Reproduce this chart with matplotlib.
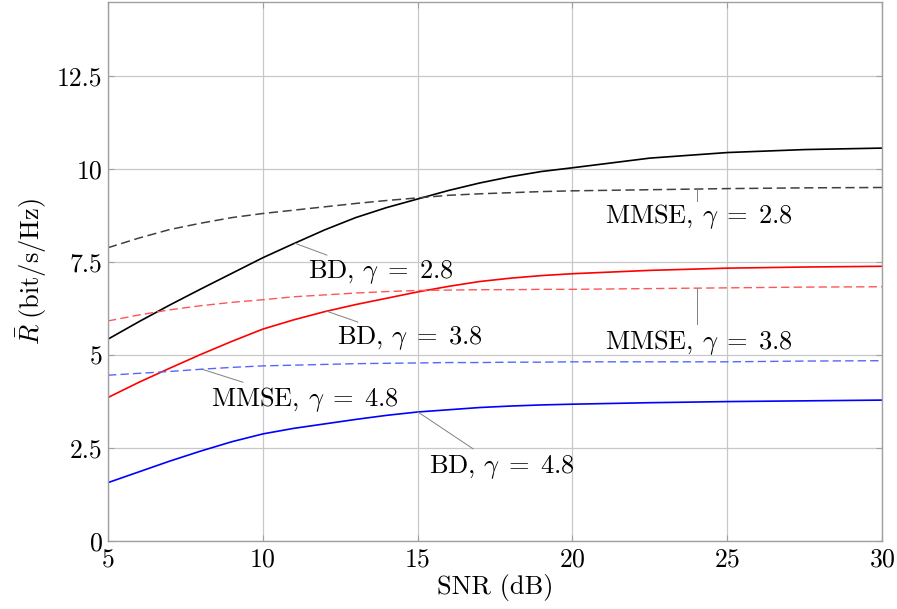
import numpy as np
import matplotlib
matplotlib.use("Agg")
import matplotlib.pyplot as plt

plt.rcParams['font.family'] = 'serif'
plt.rcParams['font.serif'] = ['cmr10', 'DejaVu Serif']
plt.rcParams['mathtext.fontset'] = 'cm'
plt.rcParams['axes.formatter.use_mathtext'] = True

# SNR in dB
snr = [5, 6, 7, 8, 9, 10, 11, 12, 13, 14, 15, 16, 17, 18, 19, 20, 22.5, 25, 27.5, 30]

# average rate curves (bit/s/Hz)
bd_28 = [5.43, 5.90, 6.35, 6.78, 7.20, 7.62, 8.00, 8.37, 8.70, 8.97, 9.20,
         9.43, 9.63, 9.80, 9.94, 10.04, 10.30, 10.45, 10.53, 10.57]
mmse_28 = [7.89, 8.15, 8.38, 8.55, 8.70, 8.81, 8.90, 8.99, 9.08, 9.16, 9.23,
           9.30, 9.34, 9.37, 9.40, 9.42, 9.45, 9.48, 9.50, 9.51]
bd_38 = [3.86, 4.27, 4.65, 5.02, 5.37, 5.70, 5.95, 6.17, 6.36, 6.53, 6.70,
         6.85, 6.98, 7.07, 7.14, 7.19, 7.28, 7.34, 7.37, 7.39]
mmse_38 = [5.92, 6.08, 6.22, 6.33, 6.42, 6.49, 6.57, 6.62, 6.67, 6.71, 6.74,
           6.75, 6.76, 6.76, 6.77, 6.77, 6.79, 6.81, 6.83, 6.84]
bd_48 = [1.57, 1.86, 2.15, 2.42, 2.67, 2.88, 3.03, 3.15, 3.27, 3.38, 3.47,
         3.53, 3.59, 3.63, 3.66, 3.68, 3.72, 3.75, 3.77, 3.79]
mmse_48 = [4.46, 4.51, 4.56, 4.62, 4.67, 4.71, 4.73, 4.75, 4.77, 4.78, 4.79,
           4.80, 4.80, 4.81, 4.81, 4.82, 4.82, 4.82, 4.84, 4.85]

fig = plt.figure(figsize=(8.97, 6.09), dpi=100)
ax = fig.add_axes([0.1204, 0.1117, 0.8629, 0.885])

ax.plot(snr, bd_28, color='black', lw=1.2)
ax.plot(snr, mmse_28, color='#404040', lw=1.1, dashes=(6, 3))
ax.plot(snr, bd_38, color='#ff0000', lw=1.2)
ax.plot(snr, mmse_38, color='#ff5555', lw=1.0, dashes=(6, 3))
ax.plot(snr, bd_48, color='#0000ff', lw=1.2)
ax.plot(snr, mmse_48, color='#5566ff', lw=1.0, dashes=(6, 3))

# labels with leader lines (text, curve point, line end, text pos)
notes = [
    (r'BD, $\gamma\;=\;2.8$', (11.04, 8.01), (12.07, 7.69), (11.46, 7.23)),
    (r'BD, $\gamma\;=\;3.8$', (12.07, 6.18), (13.07, 5.89), (12.40, 5.45)),
    (r'MMSE, $\gamma\;=\;2.8$', (24.02, 9.48), (24.02, 9.14), (21.05, 8.72)),
    (r'MMSE, $\gamma\;=\;3.8$', (24.02, 6.81), (24.02, 5.84), (21.05, 5.35)),
    (r'MMSE, $\gamma\;=\;4.8$', (8.04, 4.62), (9.36, 4.27), (8.33, 3.80)),
    (r'BD, $\gamma\;=\;4.8$', (15.01, 3.47), (16.79, 2.48), (15.37, 2.00)),
]
for txt, pt, end, pos in notes:
    ax.plot([pt[0], end[0]], [pt[1], end[1]], color='#808080', lw=0.7)
    ax.text(pos[0], pos[1], txt, fontsize=19, ha='left', va='center')

ax.set_xlim(5, 30)
ax.set_ylim(0, 14.5)
ax.set_xticks([5, 10, 15, 20, 25, 30])
ax.set_yticks([0, 2.5, 5, 7.5, 10, 12.5])
ax.set_yticklabels(['0', '2.5', '5', '7.5', '10', '12.5'])
ax.grid(True, color='#c8c8c8', lw=0.9)
ax.set_axisbelow(True)
for s in ax.spines.values():
    s.set_color('#a0a0a0')
    s.set_linewidth(1.0)
ax.tick_params(direction='in', color='#a0a0a0', length=4, labelsize=18.5,
               right=True, top=True)
ax.tick_params(axis='y', pad=4)
ax.tick_params(axis='x', pad=5)
ax.set_xlabel('SNR (dB)', fontsize=19, labelpad=2)
ax.set_ylabel(r'$\bar{R}\;(\mathrm{bit/s/Hz})$', fontsize=19, labelpad=6)

fig.savefig('out.png', dpi=100)
